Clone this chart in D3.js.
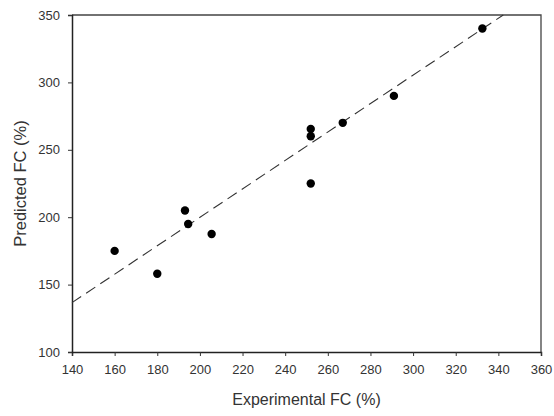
<!DOCTYPE html>
<html>
<head>
<meta charset="utf-8">
<script src="https://cdn.jsdelivr.net/npm/d3@7"></script>
<style>
  html, body { margin: 0; padding: 0; background: #fff; }
  svg { display: block; font-family: "Liberation Sans", Arial, sans-serif; }
</style>
</head>
<body>
<div id="chart"></div>
<script>
// Observed vs predicted FC values
const experimental = [160, 180, 193, 194.5, 205.5, 252, 252, 252, 267, 291, 332.5];
const predicted    = [175, 158, 205, 195, 187.5, 265.5, 260, 225, 270, 290, 340];

// Fitted line endpoints (x values), y = slope * x + intercept
const fitX = [140, 342.3];
const fitSlope = 1.055;
const fitIntercept = -11.1;

const xTicks = [140, 160, 180, 200, 220, 240, 260, 280, 300, 320, 340, 360];
const yTicks = [100, 150, 200, 250, 300, 350];

(function () {
    'use strict';

    const W = 554, H = 416;
    const margin = { left: 72, right: 13, top: 15, bottom: 64 };
    const iw = W - margin.left - margin.right;
    const ih = H - margin.top - margin.bottom;

    const svg = d3.select('#chart').append('svg')
        .attr('width', W)
        .attr('height', H);

    const g = svg.append('g')
        .attr('transform', `translate(${margin.left},${margin.top})`);

    const x = d3.scaleLinear().domain([140, 360]).range([0, iw]);
    const y = d3.scaleLinear().domain([100, 350]).range([ih, 0]);

    // Frame (top and right)
    g.append('path')
        .attr('d', `M0,0H${iw}V${ih}`)
        .attr('fill', 'none')
        .attr('stroke', '#444')
        .attr('stroke-width', 1.3);

    // Axes
    const xAxis = g.append('g')
        .attr('transform', `translate(0,${ih})`)
        .call(d3.axisBottom(x).tickValues(xTicks).tickSizeOuter(0).tickSize(4).tickPadding(9));

    const yAxis = g.append('g')
        .call(d3.axisLeft(y).tickValues(yTicks).tickSizeOuter(0).tickSize(4).tickPadding(8));

    [xAxis, yAxis].forEach(a => {
        a.select('.domain').attr('stroke', '#222').attr('stroke-width', 1.5);
        a.selectAll('.tick line').attr('stroke', '#333');
        a.selectAll('.tick text')
            .attr('fill', '#333')
            .attr('font-size', '13px')
            .attr('font-family', '"Liberation Sans", Arial, sans-serif');
    });

    // Regression line
    const line = d3.line()
        .x(d => x(d))
        .y(d => y(fitSlope * d + fitIntercept));

    g.append('path')
        .datum(fitX)
        .attr('d', line)
        .attr('fill', 'none')
        .attr('stroke', '#333')
        .attr('stroke-width', 1.1)
        .attr('stroke-dasharray', '11,6');

    // Points
    g.selectAll('circle.pt')
        .data(experimental.map((v, i) => [v, predicted[i]]))
        .enter().append('circle')
        .attr('class', 'pt')
        .attr('cx', d => x(d[0]))
        .attr('cy', d => y(d[1]))
        .attr('r', 4.2)
        .attr('fill', '#000');

    // Axis titles
    svg.append('text')
        .attr('x', margin.left + iw / 2)
        .attr('y', 405)
        .attr('text-anchor', 'middle')
        .attr('font-size', '16px')
        .attr('fill', '#333')
        .text('Experimental FC (%)');

    svg.append('text')
        .attr('transform', `translate(26,${margin.top + ih / 2}) rotate(-90)`)
        .attr('text-anchor', 'middle')
        .attr('font-size', '16.5px')
        .attr('fill', '#333')
        .text('Predicted FC (%)');
})();
</script>
</body>
</html>
